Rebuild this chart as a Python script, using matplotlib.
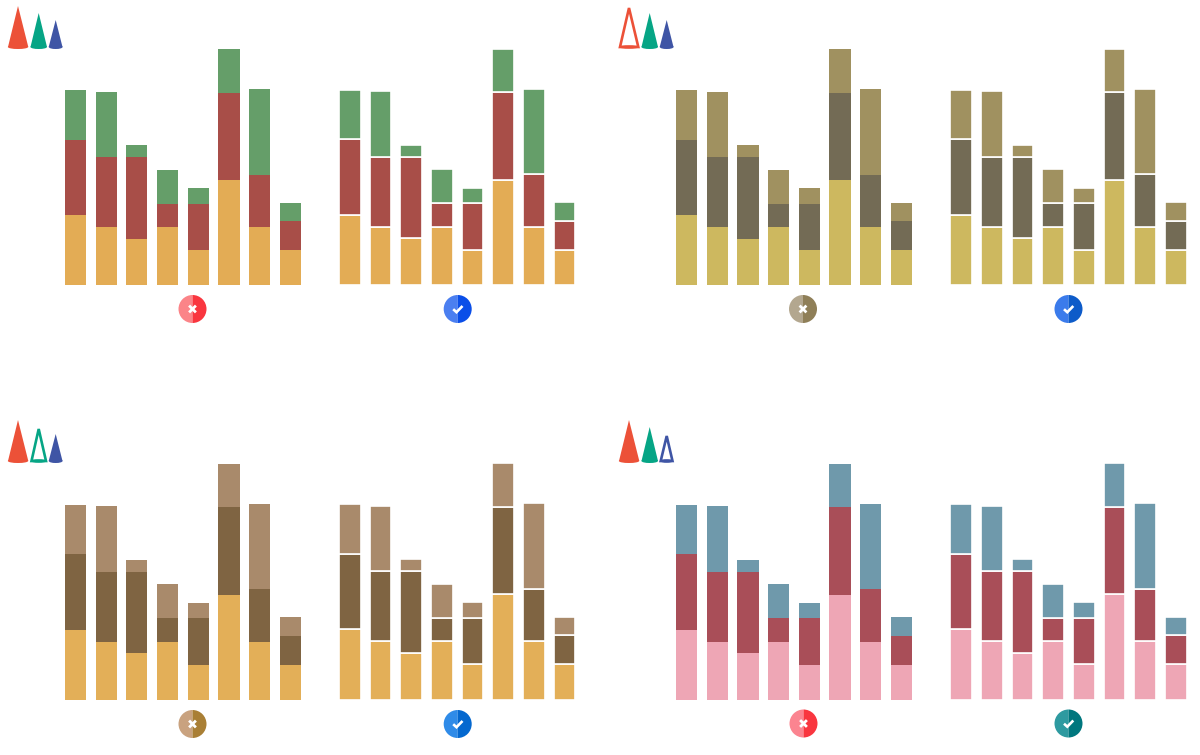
import matplotlib
matplotlib.use("Agg")
import matplotlib.pyplot as plt
from matplotlib.patches import Polygon, Wedge, Ellipse

W, H = 1200, 755
base_vals = [6, 5, 4, 5, 3, 9, 5, 3]
mid_vals = [6.5, 6, 7, 2, 4, 7.5, 4.5, 2.5]
top_vals = [4.25, 5.6, 1.0, 2.9, 1.35, 3.75, 7.3, 1.6]
categories = list(range(8))

palette_tl = ["#E3AC55", "#A84E48", "#659E69"]
palette_tr = ["#CDB85F", "#736B55", "#A09160"]
palette_bl = ["#E3AF58", "#7F6442", "#A98A6B"]
palette_br = ["#EEA6B5", "#A94E58", "#6F99AB"]

UNIT = 11.67
STEP = 30.7
YMAX = 22

fig = plt.figure(figsize=(W / 100, H / 100), dpi=100, facecolor="white")


def chart(cx0, baseline, colors, gaps):
    left = cx0 - STEP / 2
    height = YMAX * UNIT
    ax = fig.add_axes([left / W, 1 - baseline / H, 8 * STEP / W, height / H])
    ax.set_xlim(-0.5, 7.5)
    ax.set_ylim(0, YMAX)
    ax.axis("off")
    kw = dict(edgecolor="white", linewidth=1.2) if gaps else dict(linewidth=0)
    w = 21.67 / STEP if gaps else 21.2 / STEP
    bottom = [0] * 8
    for vals, col in zip([base_vals, mid_vals, top_vals], colors):
        ax.bar(categories, vals, width=w, bottom=bottom, color=col, **kw)
        bottom = [b + v for b, v in zip(bottom, vals)]


panels = [
    (75.5, 285.5, 349.7, 285, palette_tl),
    (686.5, 285.5, 961, 285, palette_tr),
    (75.5, 700, 349.7, 699.5, palette_bl),
    (686.5, 700, 961, 699.5, palette_br),
]
for c1, b1, c2, b2, pal in panels:
    chart(c1, b1, pal, False)
    chart(c2, b2, pal, True)

ov = fig.add_axes([0, 0, 1, 1], zorder=5)
ov.set_xlim(0, W)
ov.set_ylim(H, 0)
ov.axis("off")
ov.patch.set_alpha(0)


def cone(x, x0, x1, ytop, ybot, color, hollow):
    pts = [(x0, ybot), (x, ytop), (x1, ybot)]
    if hollow:
        ov.add_patch(Polygon([(x0 + 1, ybot), (x, ytop + 2), (x1 - 1, ybot)], closed=True,
                             facecolor="white", edgecolor=color, linewidth=1.9, joinstyle="miter"))
        ov.add_patch(Ellipse((x, ybot), x1 - x0 - 2, 2.5, facecolor=color, edgecolor=color, linewidth=0.6))
    else:
        ov.add_patch(Polygon(pts, closed=True, facecolor=color, linewidth=0))
        ov.add_patch(Ellipse((x, ybot), x1 - x0, 4, facecolor=color, linewidth=0))


def cones(dx, dy, hollow_idx):
    specs = [
        (18, 8, 28.3, 6, 47, "#EC5138"),
        (38.7, 30.5, 47, 13, 47, "#06A585"),
        (55.7, 48.7, 62.5, 20, 47, "#3F55A5"),
    ]
    for i, (x, x0, x1, t, b, c) in enumerate(specs):
        cone(x + dx, x0 + dx, x1 + dx, t + dy, b + dy, c, i == hollow_idx)


cones(0, 0, None)
cones(611, 0, 0)
cones(0, 414, 1)
cones(611, 414, 2)


def icon(cx, cy, light, dark, is_check):
    ov.add_patch(Wedge((cx, cy), 14, 90, 270, facecolor=light, linewidth=0))
    ov.add_patch(Wedge((cx, cy), 14, 270, 90, facecolor=dark, linewidth=0))
    if is_check:
        ov.plot([cx - 4.5, cx - 1.2, cx + 4.8], [cy + 0.2, cy + 3.2, cy - 3], color="white",
                linewidth=1.9, solid_joinstyle="miter", solid_capstyle="butt")
    else:
        for s in (1, -1):
            ov.plot([cx - 3.4, cx + 3.4], [cy - 3.4 * s, cy + 3.4 * s], color="white",
                    linewidth=2.0, solid_capstyle="butt")


icon(192.5, 309, "#FB8488", "#F9363F", False)
icon(457.7, 309, "#4B7FF0", "#0A4EE8", True)
icon(803, 309, "#B3A78F", "#8F7F58", False)
icon(1068.5, 309, "#3B7BEB", "#0D5BC9", True)
icon(192.5, 724, "#C9A27F", "#A97F35", False)
icon(457.7, 724, "#2F8BE8", "#0468CF", True)
icon(803.5, 723.5, "#FB8490", "#F9363F", False)
icon(1068.5, 723.5, "#2E9AA0", "#00777E", True)

fig.savefig("out.png", dpi=100, facecolor="white")
